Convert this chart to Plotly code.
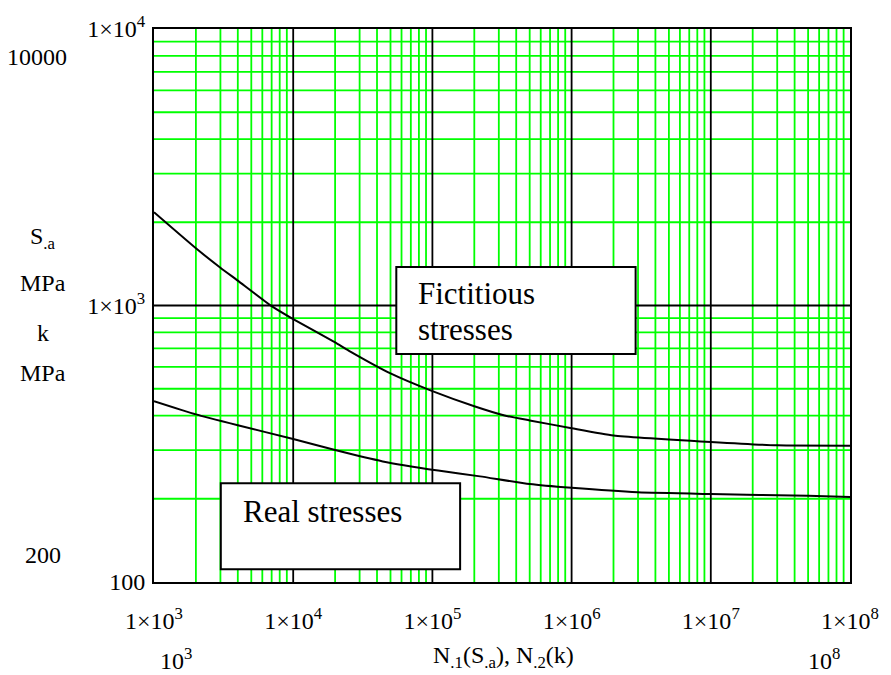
import plotly.graph_objects as go

# Fatigue curves: number of cycles N versus stress amplitude (MPa)
n_fict = [1e3, 2e3, 3e3, 4e3, 7e3, 1e4, 2e4, 2.5e4, 5e4, 1e5, 2e5, 3.3e5, 5e5, 1e6, 2e6, 1e7, 3e7, 1e8]
s_fict = [2173, 1610, 1370, 1230, 995, 893, 735, 687, 568, 490, 432, 400, 384, 360, 339, 321, 312, 311]

n_real = [1e3, 2e3, 4e3, 1e4, 2e4, 4.4e4, 1.1e5, 2.2e5, 5e5, 1e6, 3e6, 1e7, 5e7, 1e8]
s_real = [451, 404, 369, 329, 300, 273, 253, 241, 226, 219, 211, 208, 205, 203]

x_decades = [1e3, 1e4, 1e5, 1e6, 1e7, 1e8]
x_ticktext = ["1×10<sup>3</sup>", "1×10<sup>4</sup>", "1×10<sup>5</sup>",
              "1×10<sup>6</sup>", "1×10<sup>7</sup>", "1×10<sup>8</sup>"]
y_decades = [100, 1000, 10000]
y_ticktext = ["100", "1×10<sup>3</sup>", "1×10<sup>4</sup>"]
minor_steps = [2, 3, 4, 5, 6, 7, 8, 9]

W, H = 891, 675
L, R, T, B = 154, 852, 22, 582
FONT = "'Liberation Serif', 'Times New Roman', Times, serif"
GREEN = "#00ff00"

x_lo, x_hi = x_decades[0], x_decades[-1]
y_lo, y_hi = y_decades[0], y_decades[-1]


def grid_lines(vals, vertical):
    xs, ys = [], []
    for v in vals:
        if vertical:
            xs += [v, v, None]
            ys += [y_lo, y_hi, None]
        else:
            xs += [x_lo, x_hi, None]
            ys += [v, v, None]
    return xs, ys


x_minor = [m * d for d in x_decades[:-1] for m in minor_steps]
y_minor = [m * d for d in y_decades[:-1] for m in minor_steps]
x_major = x_decades[1:-1]
y_major = y_decades[1:-1]

fig = go.Figure()

for vals, vertical, color in [(x_minor, True, GREEN), (y_minor, False, GREEN),
                              (x_major, True, "black"), (y_major, False, "black")]:
    gx, gy = grid_lines(vals, vertical)
    fig.add_trace(go.Scatter(x=gx, y=gy, mode="lines", hoverinfo="skip",
                             line=dict(color=color, width=1.8), showlegend=False))

fig.add_trace(go.Scatter(x=n_fict, y=s_fict, mode="lines", name="Fictitious stresses",
                         line=dict(color="black", width=2, shape="spline", smoothing=0.5),
                         showlegend=False))
fig.add_trace(go.Scatter(x=n_real, y=s_real, mode="lines", name="Real stresses",
                         line=dict(color="black", width=2, shape="spline", smoothing=0.5),
                         showlegend=False))


def px(x):
    return (x - L) / (R - L)


def py(y):
    return (B - y) / (B - T)


axis_font = dict(family=FONT, size=24, color="black")

fig.update_xaxes(type="log", range=[3, 8], tickvals=x_decades, ticktext=x_ticktext,
                 showgrid=False, zeroline=False, showline=True, mirror=True,
                 linecolor="black", linewidth=2, ticks="", ticklabelstandoff=16,
                 tickfont=axis_font)
fig.update_yaxes(type="log", range=[2, 4], tickvals=y_decades, ticktext=y_ticktext,
                 showgrid=False, zeroline=False, showline=True, mirror=True,
                 linecolor="black", linewidth=2, ticks="", ticklabelstandoff=2,
                 tickfont=axis_font)

# White label boxes drawn over the grid
shapes = []
for x0, y0, x1, y1 in [(397, 263, 637, 351), (221, 482, 461, 569)]:
    shapes.append(dict(type="rect", xref="paper", yref="paper",
                       x0=px(x0), x1=px(x1), y0=py(y1), y1=py(y0),
                       fillcolor="white", line=dict(color="black", width=2), layer="above"))

annotations = []
box_font = dict(family=FONT, size=31, color="black")
for text, x, y in [("Fictitious", 417, 310), ("stresses", 417, 346), ("Real stresses", 241, 530)]:
    annotations.append(dict(x=px(x), y=py(y), xref="paper", yref="paper",
                            xanchor="left", yanchor="bottom", text=text,
                            showarrow=False, font=box_font))

# Axis range and variable labels
side_labels = [
    ("10000", 37, 50),
    ("200", 43, 555),
    ("S<sub>.a</sub>", 43, 234),
    ("MPa", 43, 279),
    ("k", 43, 330),
    ("MPa", 43, 370),
    ("10<sup>3</sup>", 176, 660),
    ("N<sub>.1</sub>(S<sub>.a</sub>), N<sub>.2</sub>(k)", 505, 658),
    ("10<sup>8</sup>", 826, 660),
]
for text, x, y in side_labels:
    annotations.append(dict(x=px(x), y=py(y), xref="paper", yref="paper",
                            xanchor="center", yanchor="middle", text=text,
                            showarrow=False, font=axis_font))

fig.update_layout(
    width=W, height=H,
    margin=dict(l=L, r=W - R, t=T, b=H - B),
    paper_bgcolor="white", plot_bgcolor="white",
    shapes=shapes,
    annotations=annotations,
    showlegend=False,
)

fig.write_html("out.html")
